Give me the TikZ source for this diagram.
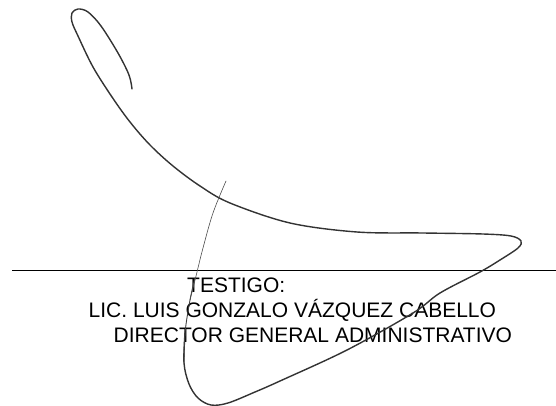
\documentclass[tikz,border=0pt]{standalone}
\usepackage{fontspec}
\setmainfont{Liberation Sans}
\begin{document}
\begin{tikzpicture}[x=1pt,y=-1pt,
  ink/.style={draw=black!80, line width=1.4pt, line cap=round, line join=round},
  thinink/.style={draw=black!70, line width=0.6pt, line cap=round},
  sigtext/.style={anchor=base west, inner sep=0pt, font=\fontsize{21}{24}\selectfont}]
\useasboundingbox (0,0) rectangle (556,406);
% signature line
\coordinate (lineL) at (12,270.5);
\coordinate (lineR) at (556,270.5);
\draw[line width=1.6pt] (lineL) -- (lineR);
% texts
\node[sigtext] (t1) at (187,292.5) {TESTIGO:};
\node[sigtext] (t2) at (88.5,317.5) {LIC. LUIS GONZALO VÁZQUEZ CABELLO};
\node[sigtext] (t3) at (113.5,342) {DIRECTOR GENERAL ADMINISTRATIVO};
% signature stroke
\draw[ink] plot[smooth, tension=0.55] coordinates {
  (132,89) (129,75) (118,53) (101,26) (88,12) (78,9) (72,13) (72,22) (78,36)
  (93,67) (112,97) (130,122) (150,145) (173,166) (200,186) (230,203)
  (290,223) (357,232) (423,233) (483,234) (511,236) (521,241)
  (518,248) (500,260) (480,272) (440,293) (413,313) (347,350) (280,381)
  (255,392) (228,403) (211,405) (198,398) (189,384) (184,363) (185,333)};
\draw[line width=0.9pt, draw=black!75, line cap=round] plot[smooth, tension=0.6] coordinates {
  (184,363) (185,333) (190,300) (195,278)};
\draw[thinink] plot[smooth, tension=0.6] coordinates {
  (190,300) (197,272) (203,248) (213,213) (226,181)};
\end{tikzpicture}
\end{document}
